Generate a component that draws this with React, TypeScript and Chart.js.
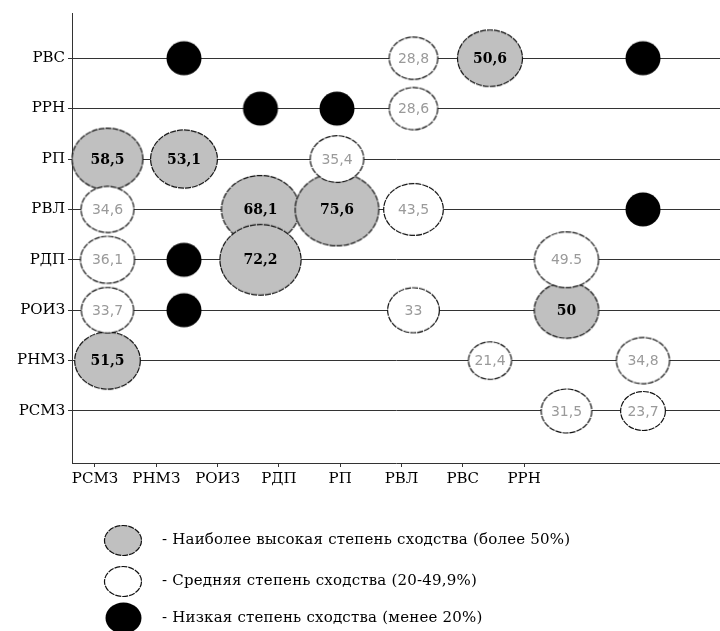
import React, { useEffect, useRef } from 'react';
import { Chart, registerables } from 'chart.js';

Chart.register(...registerables);

// Column categories (x) and row categories (y, bottom to top)
const xCategories = ['РСМЗ', 'РНМЗ', 'РОИЗ', 'РДП', 'РП', 'РВЛ', 'РВС', 'РРН'];
const yCategories = ['РСМЗ', 'РНМЗ', 'РОИЗ', 'РДП', 'РВЛ', 'РП', 'РРН', 'РВС'];

// Highest similarity (> 50%)
const highCols = ['РВЛ', 'РСМЗ', 'РНМЗ', 'РОИЗ', 'РДП', 'РОИЗ', 'РВС', 'РСМЗ'];
const highRows = ['РВС', 'РП', 'РП', 'РВЛ', 'РВЛ', 'РДП', 'РОИЗ', 'РНМЗ'];
const highValues = [50.6, 58.5, 53.1, 68.1, 75.6, 72.2, 50, 51.5];
const highLabels = ['50,6', '58,5', '53,1', '68,1', '75,6', '72,2', '50', '51,5'];

// Medium similarity (20-49.9%)
const midCols = ['РП', 'РП', 'РДП', 'РСМЗ', 'РП', 'РСМЗ', 'РВС', 'РСМЗ', 'РП', 'РВЛ', 'РРН', 'РВС', 'РРН'];
const midRows = ['РВС', 'РРН', 'РП', 'РВЛ', 'РВЛ', 'РДП', 'РДП', 'РОИЗ', 'РОИЗ', 'РНМЗ', 'РНМЗ', 'РСМЗ', 'РСМЗ'];
const midValues = [28.8, 28.6, 35.4, 34.6, 43.5, 36.1, 49.5, 33.7, 33, 21.4, 34.8, 31.5, 23.7];
const midLabels = ['28,8', '28,6', '35,4', '34,6', '43,5', '36,1', '49.5', '33,7', '33', '21,4', '34,8', '31,5', '23,7'];

// Low similarity (< 20%), no value printed
const lowCols = ['РНМЗ', 'РРН', 'РОИЗ', 'РДП', 'РРН', 'РНМЗ', 'РНМЗ'];
const lowRows = ['РВС', 'РВС', 'РРН', 'РРН', 'РВЛ', 'РДП', 'РОИЗ'];

const legendLabels = [
  '- Наиболее высокая степень сходства (более 50%)',
  '- Средняя степень сходства (20-49,9%)',
  '- Низкая степень сходства (менее 20%)',
];

const GRAY = '#c0c0c0';
const AXIS_FONT = { family: '"DejaVu Serif", serif', size: 15 };

function ellipseImage(w: number, h: number, fill: string, dashed: boolean): HTMLCanvasElement {
  const c = document.createElement('canvas');
  c.width = Math.ceil(w) + 3;
  c.height = Math.ceil(h) + 3;
  const g = c.getContext('2d') as CanvasRenderingContext2D;
  g.beginPath();
  g.ellipse(c.width / 2, c.height / 2, w / 2, h / 2, 0, 0, Math.PI * 2);
  g.fillStyle = fill;
  g.fill();
  if (dashed) {
    g.setLineDash([6, 1]);
    g.lineWidth = 1.2;
    g.strokeStyle = '#111';
    g.stroke();
  }
  return c;
}

function sizeFor(v: number | null): [number, number] {
  if (v === null) return [35, 34];
  const w = 27 + 0.75 * v;
  return [w, w * 0.87];
}

function buildPoints(cols: string[], rows: string[], values: (number | null)[]) {
  return cols.map((c, i) => {
    const [w] = sizeFor(values[i]);
    return { x: xCategories.indexOf(c), y: yCategories.indexOf(rows[i]), r: w / 2 };
  });
}

const labelPlugin = {
  id: 'bubbleLabels',
  afterDatasetsDraw(chart: any) {
    const ctx = chart.ctx as CanvasRenderingContext2D;
    chart.data.datasets.forEach((ds: any, i: number) => {
      if (!ds.valueLabels) return;
      const meta = chart.getDatasetMeta(i);
      ctx.save();
      ctx.font = ds.labelFont;
      ctx.fillStyle = ds.labelColor;
      ctx.textAlign = 'center';
      ctx.textBaseline = 'middle';
      meta.data.forEach((el: any, j: number) => {
        ctx.fillText(ds.valueLabels[j], el.x, el.y + 1);
      });
      ctx.restore();
    });
  },
};

const legendPlugin = {
  id: 'customLegend',
  afterDraw(chart: any) {
    const ctx = chart.ctx as CanvasRenderingContext2D;
    const base = chart.chartArea.bottom;
    const items = [
      { img: ellipseImage(37, 30, GRAY, true), dy: 77 },
      { img: ellipseImage(37, 30, '#fff', true), dy: 118 },
      { img: ellipseImage(36, 31, '#000', false), dy: 155 },
    ];
    ctx.save();
    ctx.font = '15px "DejaVu Serif", serif';
    (ctx as any).letterSpacing = '0.2px';
    ctx.fillStyle = '#000';
    ctx.textBaseline = 'middle';
    ctx.textAlign = 'left';
    items.forEach((it, i) => {
      const cy = base + it.dy;
      ctx.drawImage(it.img, Math.round(123 - it.img.width / 2), Math.round(cy - it.img.height / 2));
      ctx.fillText(legendLabels[i], 162, cy);
    });
    ctx.restore();
  },
};

function noPadding(s: any) {
  s.paddingTop = 0;
  s.paddingBottom = 0;
  s.paddingLeft = 0;
  s.paddingRight = 0;
}

export default function App() {
  const ref = useRef<HTMLCanvasElement | null>(null);

  useEffect(() => {
    if (!ref.current) return;
    const highImgs = highValues.map((v) => { const [w, h] = sizeFor(v); return ellipseImage(w, h, GRAY, true); });
    const midImgs = midValues.map((v) => { const [w, h] = sizeFor(v); return ellipseImage(w, h, '#fff', true); });
    const lowImg = (() => { const [w, h] = sizeFor(null); return ellipseImage(w, h, '#000', false); })();

    const chart = new Chart(ref.current, {
      type: 'bubble',
      data: {
        datasets: [
          {
            label: 'low',
            data: buildPoints(lowCols, lowRows, lowCols.map(() => null)),
            xAxisID: 'xb',
            yAxisID: 'y',
            pointStyle: lowImg,
            clip: false,
          } as any,
          {
            label: 'mid',
            data: buildPoints(midCols, midRows, midValues),
            xAxisID: 'xb',
            yAxisID: 'y',
            pointStyle: (c: any) => midImgs[c.dataIndex],
            clip: false,
            valueLabels: midLabels,
            labelFont: '14px "DejaVu Sans", sans-serif',
            labelColor: '#9a9a9a',
          } as any,
          {
            label: 'high',
            data: buildPoints(highCols, highRows, highValues),
            xAxisID: 'xb',
            yAxisID: 'y',
            pointStyle: (c: any) => highImgs[c.dataIndex],
            clip: false,
            valueLabels: highLabels,
            labelFont: 'bold 14px "DejaVu Serif", serif',
            labelColor: '#000',
          } as any,
        ],
      },
      options: {
        responsive: false,
        animation: false,
        events: [],
        layout: { autoPadding: false, padding: { top: 13, left: 0, right: 0, bottom: 0 } },
        plugins: { legend: { display: false }, tooltip: { enabled: false } },
        scales: {
          x: {
            type: 'linear',
            position: 'bottom',
            min: -0.375,
            max: 10.196,
            afterBuildTicks: (s: any) => { s.ticks = xCategories.map((_, i) => ({ value: i })); },
            afterFit: (s: any) => { s.height = 168; noPadding(s); },
            ticks: {
              autoSkip: false,
              maxRotation: 0,
              padding: 3,
              color: '#000',
              font: AXIS_FONT,
              callback: (_v: any, i: number) => xCategories[i],
            },
            grid: { drawOnChartArea: false, drawTicks: true, tickLength: 4, color: '#333' },
            border: { display: true, color: '#333', width: 1 },
          },
          xb: { type: 'linear', display: false, min: -0.464, max: 8.007 },
          y: {
            type: 'linear',
            position: 'left',
            min: -1.032,
            max: 7.897,
            afterBuildTicks: (s: any) => { s.ticks = yCategories.map((_, i) => ({ value: i })); },
            afterFit: (s: any) => { s.width = 72; noPadding(s); },
            ticks: {
              autoSkip: false,
              padding: 3,
              color: '#000',
              font: AXIS_FONT,
              callback: (_v: any, i: number) => yCategories[i],
            },
            grid: { drawOnChartArea: true, drawTicks: true, tickLength: 4, color: '#333', lineWidth: 1 },
            border: { display: true, color: '#333', width: 1 },
          },
        } as any,
      },
      plugins: [labelPlugin, legendPlugin],
    });
    return () => chart.destroy();
  }, []);

  return (
    <canvas
      ref={ref}
      width={720}
      height={631}
      style={{ position: 'fixed', left: 0, top: 0, width: 720, height: 631, display: 'block', background: '#fff' }}
    />
  );
}
